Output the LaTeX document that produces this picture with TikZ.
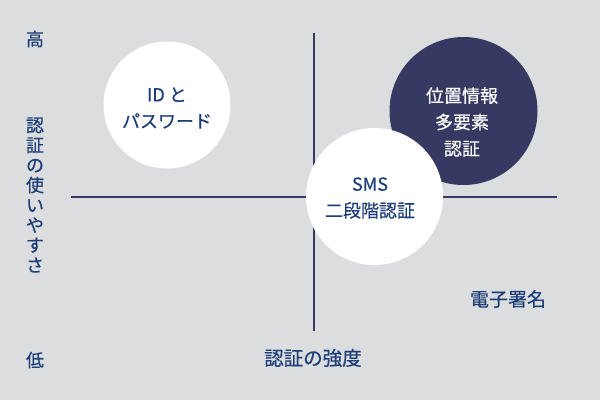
\documentclass[tikz,border=0pt]{standalone}
\usepackage{fontspec}
\setmainfont{Noto Sans CJK JP}
\newfontfamily\cjk[FakeBold=0.4]{Noto Sans CJK JP}
\definecolor{bgc}{HTML}{DCDDDE}
\definecolor{navy}{HTML}{363A62}
\definecolor{txt}{HTML}{1D3E78}
\begin{document}
\begin{tikzpicture}[x=1pt,y=-1pt,
  axis/.style={draw=navy,line width=1.3pt},
  lbl/.style={text=txt,font=\cjk\fontsize{18}{20}\selectfont,inner sep=0pt,align=center},
  bubble/.style={circle,inner sep=0pt,minimum size=#1},
  intext/.style={font=\cjk\fontsize{18}{26.5}\selectfont,inner sep=0pt,align=center}]
\fill[bgc] (0,0) rectangle (600,400);
\useasboundingbox (0,0) rectangle (600,400);
% axes
\coordinate (vtop) at (314,33);
\coordinate (vbot) at (314,331);
\coordinate (hl) at (71,197);
\coordinate (hr) at (557,197);
\draw[axis] (vtop) -- (vbot);
\draw[axis] (hl) -- (hr);
% circles
\node[bubble=127pt,fill=white] (idc) at (167,105) {};
\node[bubble=148pt,fill=navy] (geo) at (463.5,111) {};
\node[bubble=137pt,fill=white] (sms) at (374.5,196.5) {};
% circle texts
\node[intext,text=txt] (idt) at (167,108) {ID と\\パスワード};
\node[intext,text=white] (geot) at (462,122) {位置情報\\多要素\\認証};
\node[intext,text=txt] (smst) at (370,198) {SMS\\二段階認証};
% labels
\node[lbl] (hi) at (35,39) {高};
\node[lbl] (lo) at (35,360) {低};
\node[lbl] (ylab) at (35,195) {認\\証\\の\\使\\い\\や\\す\\さ};
\node[lbl,font=\cjk\fontsize{19.5}{20}\selectfont] (xlab) at (313,358) {認証の強度};
\node[lbl,font=\cjk\fontsize{19}{20}\selectfont] (sig) at (508,299) {電子署名};
\end{tikzpicture}
\end{document}
